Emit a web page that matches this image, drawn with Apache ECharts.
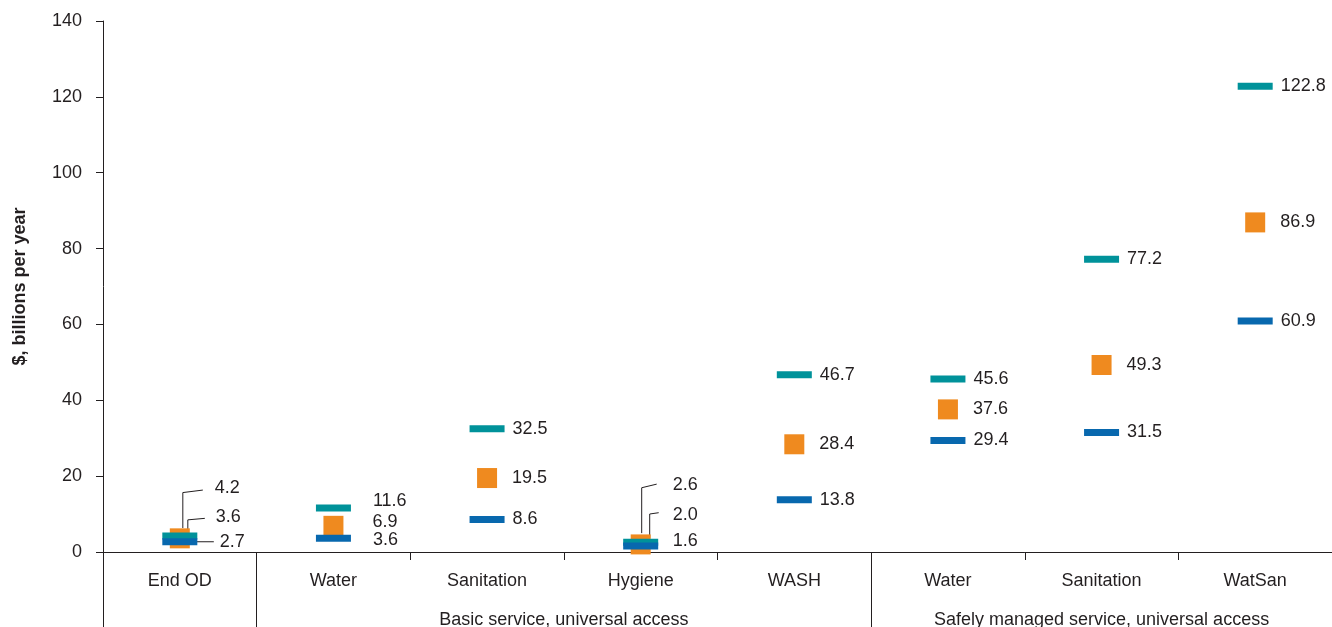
<!DOCTYPE html>
<html>
<head>
<meta charset="utf-8">
<script src="https://cdn.jsdelivr.net/npm/echarts@6/dist/echarts.min.js"></script>
<style>
  html, body { margin: 0; padding: 0; background: #fff; }
  #chart { width: 1332px; height: 627px; }
</style>
</head>
<body>
<div id="chart"></div>
<script>
// ---- Data ----
const categories = ['End OD', 'Water', 'Sanitation', 'Hygiene', 'WASH', 'Water', 'Sanitation', 'WatSan'];
const groupLabels = ['', '', '', '', '', '', 'Basic service, universal access', '', '', '', '', '', '', 'Safely managed service, universal access', '', '', ''];
const highValues = [4.2, 11.6, 32.5, 2.6, 46.7, 45.6, 77.2, 122.8];
const midValues  = [3.6, 6.9, 19.5, 2.0, 28.4, 37.6, 49.3, 86.9];
const lowValues  = [2.7, 3.6, 8.6, 1.6, 13.8, 29.4, 31.5, 60.9];
const yTicks = [0, 20, 40, 60, 80, 100, 120, 140];

// ---- Styling ----
const TEXT = '#231F20';
const FONT = '"Liberation Sans", Arial, Helvetica, sans-serif';
const FS = 18;
const TEAL = '#00929A';
const ORANGE = '#EF8A1F';
const BLUE = '#0868AE';

const calloutCats = [0, 3];
const seriesArrays = { high: highValues, mid: midValues, low: lowValues };
// leader-line callouts (pixel offsets relative to the mark centre)
const callouts = [
  { cat: 0, s: 'high', line: [[3, -8], [3, -43.5], [23, -46]], label: [35, -48] },
  { cat: 0, s: 'mid',  line: [[8, -8], [8, -18.5], [25, -20]], label: [36, -21] },
  { cat: 0, s: 'low',  line: [[17, 0], [34, 0]], label: [40, 0] },
  { cat: 3, s: 'high', line: [[1, -9], [1, -54.4], [16, -58]], label: [32, -57] },
  { cat: 3, s: 'mid',  line: [[9, -6.4], [9, -30.4], [18, -31.7]], label: [32, -29.4] },
  { cat: 3, s: 'low',  line: null, label: [32, -5] }
];

function items(arr) {
  return arr.map((v, i) => ({ value: [i, v], label: { show: calloutCats.indexOf(i) < 0 } }));
}
const labelBase = { show: true, position: 'right', color: TEXT, fontSize: FS, fontFamily: FONT,
  formatter: p => p.value[1].toFixed(1) };
// spread the crowded basic-Water labels
const waterShift = dy => (p => (p.dataIndex === 1 ? { dx: 14, dy: dy } : {}));

const chart = echarts.init(document.getElementById('chart'), null, { renderer: 'canvas' });
chart.setOption({
  animation: false,
  backgroundColor: '#fff',
  grid: { left: 103, right: 0, top: 21, bottom: 75, containLabel: false, outerBoundsMode: 'none' },
  xAxis: [
    {
      type: 'category', data: categories, boundaryGap: true,
      axisLine: { show: true, lineStyle: { color: TEXT, width: 1 } },
      axisTick: { show: true, length: 8, interval: 0, lineStyle: { color: TEXT } },
      axisLabel: { interval: 0, margin: 20, color: TEXT, fontSize: FS, fontFamily: FONT },
      splitLine: { show: false }
    },
    {
      type: 'category', data: groupLabels, boundaryGap: false, position: 'bottom', offset: 0,
      axisLine: { show: false },
      axisTick: { show: true, length: 75, interval: (i) => i === 0 || i === 2 || i === 10,
        lineStyle: { color: TEXT, width: 1 } },
      axisLabel: { interval: 0, margin: 59, color: TEXT, fontSize: FS, fontFamily: FONT },
      splitLine: { show: false }
    }
  ],
  yAxis: {
    type: 'value', min: yTicks[0], max: yTicks[yTicks.length - 1], interval: 20,
    name: '$, billions per year', nameLocation: 'middle', nameRotate: 90, nameGap: 74,
    nameTextStyle: { color: TEXT, fontSize: FS, fontWeight: 'bold', fontFamily: FONT },
    axisLine: { show: true, lineStyle: { color: TEXT, width: 1 } },
    axisTick: { show: true, length: 7, lineStyle: { color: TEXT } },
    axisLabel: { margin: 21, color: TEXT, fontSize: FS, fontFamily: FONT },
    splitLine: { show: false }
  },
  series: [
    {
      name: 'Callouts', type: 'custom', xAxisIndex: 0, z: 1, silent: true,
      data: callouts.map(c => [c.cat, seriesArrays[c.s][c.cat]]),
      renderItem: function (params, api) {
        const c = callouts[params.dataIndex];
        const p = api.coord([api.value(0), api.value(1)]);
        const children = [];
        if (c.line) {
          children.push({ type: 'polyline',
            shape: { points: c.line.map(d => [p[0] + d[0], p[1] + d[1]]) },
            style: { stroke: TEXT, lineWidth: 1, fill: null } });
        }
        children.push({ type: 'text',
          style: { text: api.value(1).toFixed(1), x: p[0] + c.label[0], y: p[1] + c.label[1],
            fill: TEXT, fontSize: FS, fontFamily: FONT, align: 'left', verticalAlign: 'middle' } });
        return { type: 'group', children };
      }
    },
    {
      name: 'Mid', type: 'scatter', symbol: 'rect', symbolSize: [20, 20], z: 2,
      itemStyle: { color: ORANGE, opacity: 1 },
      label: Object.assign({ distance: 15 }, labelBase), labelLayout: waterShift(-4),
      data: items(midValues)
    },
    {
      name: 'High', type: 'scatter', symbol: 'rect', symbolSize: [35, 7], z: 3,
      itemStyle: { color: TEAL, opacity: 1 },
      label: Object.assign({ distance: 8 }, labelBase), labelLayout: waterShift(-7),
      data: items(highValues)
    },
    {
      name: 'Low', type: 'scatter', symbol: 'rect', symbolSize: [35, 7], z: 3,
      itemStyle: { color: BLUE, opacity: 1 },
      label: Object.assign({ distance: 8 }, labelBase), labelLayout: waterShift(2),
      data: items(lowValues)
    }
  ]
});
</script>
</body>
</html>
